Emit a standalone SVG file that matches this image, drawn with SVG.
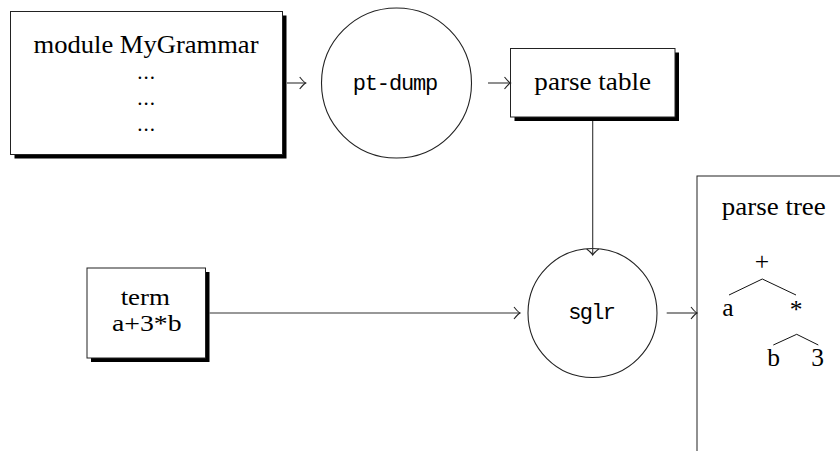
<svg xmlns="http://www.w3.org/2000/svg" width="840" height="451" viewBox="0 0 840 451">
  <style>
    .box { fill: #fff; stroke: #222; stroke-width: 1; }
    .shadow { fill: #000; }
    .proc { fill: none; stroke: #222; stroke-width: 1.1; }
    .edge { fill: none; stroke: #333; stroke-width: 1.1; }
    .txt { font-family: "Liberation Serif", "Times New Roman", serif; font-size: 25.5px; fill: #000; text-anchor: middle; }
    .sm { font-size: 23px; }
    .dots { font-size: 21px; letter-spacing: 1px; }
    .tt { font-family: "Liberation Mono", "Courier New", monospace; font-size: 22px; fill: #000; text-anchor: middle; }
  </style>
  <defs>
    <marker id="arr" viewBox="-8 -8 10 16" refX="0" refY="0" markerWidth="10" markerHeight="16" markerUnits="userSpaceOnUse" orient="auto">
      <path d="M-6,-6 Q-2,-1 0,0 Q-2,1 -6,6" fill="none" stroke="#222" stroke-width="1.1"/>
    </marker>
  </defs>

  <rect width="840" height="451" fill="#fff"/>

  <!-- grammar source module -->
  <g id="grammar">
    <rect class="shadow" x="14.5" y="15.5" width="272" height="143"/>
    <rect class="box" x="10.5" y="11.5" width="272" height="143"/>
    <text class="txt" x="146" y="53" textLength="225" lengthAdjust="spacingAndGlyphs">module MyGrammar</text>
    <text class="txt dots" x="146.5" y="78.5">...</text>
    <text class="txt dots" x="146.5" y="104.5">...</text>
    <text class="txt dots" x="146.5" y="131">...</text>
  </g>

  <!-- pt-dump tool -->
  <g id="ptdump">
    <circle class="proc" cx="396.5" cy="83" r="75"/>
    <text class="tt" x="395.5" y="90" textLength="85.6" lengthAdjust="spacing">pt-dump</text>
  </g>

  <!-- parse table -->
  <g id="parsetable">
    <rect class="shadow" x="514.5" y="52.5" width="164.5" height="68.5"/>
    <rect class="box" x="510.5" y="48.5" width="164.5" height="68.5"/>
    <text class="txt" x="592.7" y="90" textLength="116.7" lengthAdjust="spacingAndGlyphs">parse table</text>
  </g>

  <!-- input term -->
  <g id="term">
    <rect class="shadow" x="91" y="272" width="118.5" height="90"/>
    <rect class="box" x="87" y="268" width="118.5" height="90"/>
    <text class="txt sm" x="145.3" y="304.5" textLength="49.3" lengthAdjust="spacingAndGlyphs">term</text>
    <text class="txt sm" x="146.8" y="330.5" textLength="69.7" lengthAdjust="spacingAndGlyphs">a+3*b</text>
  </g>

  <!-- sglr parser -->
  <g id="sglr">
    <circle class="proc" cx="592.5" cy="313" r="64.5"/>
    <text class="tt" x="592" y="319" textLength="47.7" lengthAdjust="spacing">sglr</text>
  </g>

  <!-- resulting parse tree -->
  <g id="parsetree">
    <rect class="box" x="697" y="176" width="200" height="300" stroke="#555"/>
    <text class="txt" x="773.8" y="215" textLength="104" lengthAdjust="spacingAndGlyphs">parse tree</text>
    <text class="txt" x="762" y="270">+</text>
    <text class="txt" x="728" y="316">a</text>
    <text class="txt" x="796" y="318">*</text>
    <text class="txt" x="773.5" y="366">b</text>
    <text class="txt" x="817.7" y="366">3</text>
    <path d="M729,295 L762.3,279 L796,295" fill="none" stroke="#111" stroke-width="1"/>
    <path d="M773.3,345 L796.7,334.3 L818.3,345" fill="none" stroke="#111" stroke-width="1"/>
  </g>

  <!-- connectors -->
  <g id="connectors">
    <line class="edge" x1="287" y1="83" x2="305.7" y2="83" marker-end="url(#arr)"/>
    <line class="edge" x1="488" y1="83" x2="510.5" y2="83" marker-end="url(#arr)"/>
    <line class="edge" x1="592.7" y1="121" x2="592.7" y2="255" marker-end="url(#arr)"/>
    <line class="edge" x1="209.5" y1="313" x2="520" y2="313" marker-end="url(#arr)"/>
    <line class="edge" x1="666.7" y1="313" x2="697" y2="313" marker-end="url(#arr)"/>
  </g>
</svg>
